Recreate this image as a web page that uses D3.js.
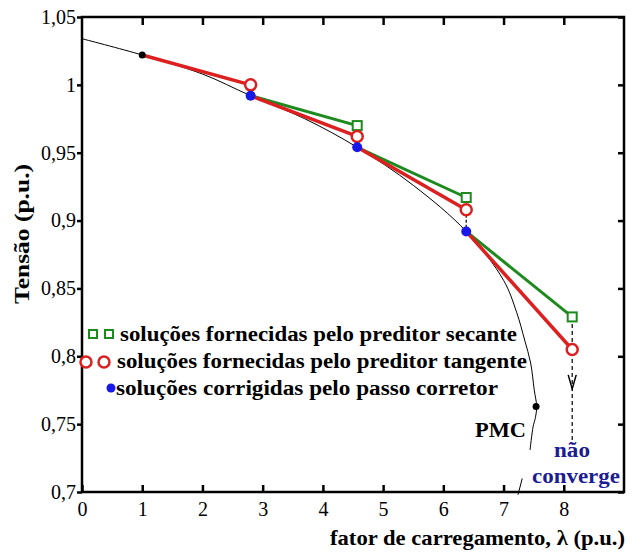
<!DOCTYPE html>
<html>
<head>
<meta charset="utf-8">
<script src="https://cdn.jsdelivr.net/npm/d3@7"></script>
<style>
  body { margin: 0; background: #fff; }
  svg { display: block; }
</style>
</head>
<body>
<svg id="chart" width="638" height="552"></svg>
<script>
// curva PV (lambda, tensao); null marca o trecho escondido
const pvLambda = [0, 1, 2, 2.8, 3.7, 4.57, 5.5, 6.38, 7.0, 7.22, 7.35, 7.45, 7.51, 7.55, 7.53, 7.49, 7.44, null, 7.31, 7.24];
const pvVolt = [1.034, 1.022, 1.008, 0.992, 0.975, 0.954, 0.926, 0.892, 0.856, 0.832, 0.812, 0.795, 0.775, 0.763, 0.755, 0.748, 0.731, null, 0.710, 0.698];

const startPoint = [1, 1.022];
const pmcPoint = [7.54, 0.763];

const predLambda = [2.8, 4.57, 6.38, 8.14];
const secantV = [null, 0.970, 0.917, 0.829];
const tangentV = [1.000, 0.962, 0.908, 0.805];
const corrLambda = [2.8, 4.57, 6.38];
const corrV = [0.992, 0.954, 0.892];

// seta "nao converge"
const failLambda = 8.14;
const failArrowTip = 0.776;
const failArrowEnd = 0.735;

const xTicks = [0, 1, 2, 3, 4, 5, 6, 7, 8];
const xTickLabels = ["0", "1", "2", "3", "4", "5", "6", "7", "8"];
const yTicks = [0.7, 0.75, 0.8, 0.85, 0.9, 0.95, 1.0, 1.05];
const yTickLabels = ["0,7", "0,75", "0,8", "0,85", "0,9", "0,95", "1", "1,05"];

const green = "#1e8a1e";
const red = "#dc2020";
const blue = "#1818e8";
const navy = "#1c1c94";
const serif = "Liberation Serif";

const svg = d3.select("#chart");
const x = d3.scaleLinear().domain([0, 9]).range([82, 624]);
const y = d3.scaleLinear().domain([0.7, 1.05]).range([492, 17]);

const label = (g, px, py, str, o = {}) => {
  const t = g.append("text")
    .attr("x", px)
    .attr("y", py)
    .style("font-family", serif)
    .style("font-size", (o.size || 19) + "px")
    .style("font-weight", o.weight || "bold")
    .attr("fill", o.fill || "#000")
    .attr("text-anchor", o.anchor || "start")
    .text(str);
  if (o.len) t.attr("textLength", o.len).attr("lengthAdjust", "spacingAndGlyphs");
  return t;
};

// eixos
const styleAxis = (g) => {
  g.attr("font-family", null).attr("font-size", null);
  g.select(".domain").remove();
  g.selectAll(".tick line").attr("stroke", "#000").attr("stroke-width", 2.5);
  g.selectAll(".tick text")
    .style("font-family", serif).style("font-size", "20px").attr("fill", "#000");
};

svg.append("g")
  .attr("transform", `translate(0,${y(0.7)})`)
  .call(d3.axisBottom(x).tickValues(xTicks).tickSize(-7).tickSizeOuter(0).tickPadding(10)
    .tickFormat((d, i) => xTickLabels[i]))
  .call(styleAxis);

svg.append("g")
  .attr("transform", `translate(0,${y(1.05)})`)
  .call(d3.axisTop(x).tickValues(xTicks.slice(1)).tickSize(-8).tickSizeOuter(0).tickFormat(""))
  .call(styleAxis);

svg.append("g")
  .attr("transform", `translate(${x(0)},0)`)
  .call(d3.axisLeft(y).tickValues(yTicks).tickSize(5).tickSizeOuter(0).tickPadding(1)
    .tickFormat((d, i) => yTickLabels[i]))
  .call(styleAxis);

svg.append("g")
  .attr("transform", `translate(${x(9)},0)`)
  .call(d3.axisRight(y).tickValues(yTicks).tickSize(-6).tickSizeOuter(0).tickFormat(""))
  .call(styleAxis);

svg.append("rect")
  .attr("x", x(0)).attr("y", y(1.05))
  .attr("width", x(9) - x(0)).attr("height", y(0.7) - y(1.05))
  .attr("fill", "none").attr("stroke", "#000").attr("stroke-width", 2.5);

// curva PV
const pv = pvLambda.map((l, i) => [l, pvVolt[i]]);
const pvLine = d3.line()
  .defined((d) => d[0] !== null)
  .x((d) => x(d[0])).y((d) => y(d[1]))
  .curve(d3.curveCatmullRom);
svg.append("path").datum(pv)
  .attr("d", pvLine)
  .attr("fill", "none").attr("stroke", "#000").attr("stroke-width", 1);

const seg = (p1, p2, color, w, dash) => svg.append("line")
  .attr("x1", x(p1[0])).attr("y1", y(p1[1]))
  .attr("x2", x(p2[0])).attr("y2", y(p2[1]))
  .attr("stroke", color).attr("stroke-width", w)
  .attr("stroke-dasharray", dash || null);

// preditor secante (verde)
corrLambda.forEach((l, i) => {
  seg([l, corrV[i]], [predLambda[i + 1], secantV[i + 1]], green, 3);
});

// preditor tangente (vermelho)
seg(startPoint, [predLambda[0], tangentV[0]], red, 3.5);
corrLambda.forEach((l, i) => {
  seg([l, corrV[i]], [predLambda[i + 1], tangentV[i + 1]], red, 3.5);
});

// passo corretor
corrLambda.forEach((l, i) => {
  seg([l, tangentV[i]], [l, corrV[i]], "#000", 1.2, "3,2");
});

// nao converge
seg([failLambda, secantV[3]], [failLambda, failArrowEnd], "#000", 1.2, "4,3");
svg.append("path")
  .attr("d", `M${x(failLambda) - 4},${y(failArrowTip) - 14}L${x(failLambda)},${y(failArrowTip)}L${x(failLambda) + 4},${y(failArrowTip) - 14}`)
  .attr("fill", "none").attr("stroke", "#000").attr("stroke-width", 1.5);

// marcadores
svg.append("g").selectAll("circle")
  .data([startPoint, pmcPoint])
  .join("circle")
  .attr("cx", (d) => x(d[0])).attr("cy", (d) => y(d[1]))
  .attr("r", 3.5).attr("fill", "#000");

svg.append("g").selectAll("rect")
  .data(predLambda.map((l, i) => [l, secantV[i]]).filter((d) => d[1] !== null))
  .join("rect")
  .attr("x", (d) => x(d[0]) - 4.5).attr("y", (d) => y(d[1]) - 4.5)
  .attr("width", 9).attr("height", 9)
  .attr("fill", "#fff").attr("stroke", green).attr("stroke-width", 2);

svg.append("g").selectAll("circle")
  .data(predLambda.map((l, i) => [l, tangentV[i]]))
  .join("circle")
  .attr("cx", (d) => x(d[0])).attr("cy", (d) => y(d[1]))
  .attr("r", 5.5)
  .attr("fill", "#fff").attr("stroke", red).attr("stroke-width", 2.5);

svg.append("g").selectAll("circle")
  .data(corrLambda.map((l, i) => [l, corrV[i]]))
  .join("circle")
  .attr("cx", (d) => x(d[0])).attr("cy", (d) => y(d[1]))
  .attr("r", 5).attr("fill", blue);

// legenda
const leg = svg.append("g");
[93, 109].forEach((cx) => {
  leg.append("rect").attr("x", cx - 4).attr("y", 330).attr("width", 8).attr("height", 8)
    .attr("fill", "#fff").attr("stroke", green).attr("stroke-width", 2);
});
[86, 104].forEach((cx) => {
  leg.append("circle").attr("cx", cx).attr("cy", 362).attr("r", 5.5)
    .attr("fill", "#fff").attr("stroke", red).attr("stroke-width", 2.5);
});
leg.append("circle").attr("cx", 111).attr("cy", 388).attr("r", 4.5).attr("fill", blue);
label(leg, 120, 341, "soluções fornecidas pelo preditor secante", { size: 20, len: 397 });
label(leg, 117, 368, "soluções fornecidas pelo preditor tangente", { size: 20, len: 410 });
label(leg, 116, 395, "soluções corrigidas pelo passo corretor", { size: 20, len: 382 });

// anotacoes
label(svg, 475, 437, "PMC", { size: 20, len: 51 });
label(svg, 572, 457, "não", { size: 20, fill: navy, anchor: "middle", len: 36 });
label(svg, 532, 483, "converge", { size: 20, fill: navy, len: 88 });

// titulos dos eixos
label(svg, 330, 545, "fator de carregamento, λ (p.u.)", { size: 22, len: 295 });
label(svg, 0, 0, "Tensão (p.u.)", { size: 21, anchor: "middle", len: 140 })
  .attr("transform", "translate(29,234) rotate(-90)");
</script>
</body>
</html>
